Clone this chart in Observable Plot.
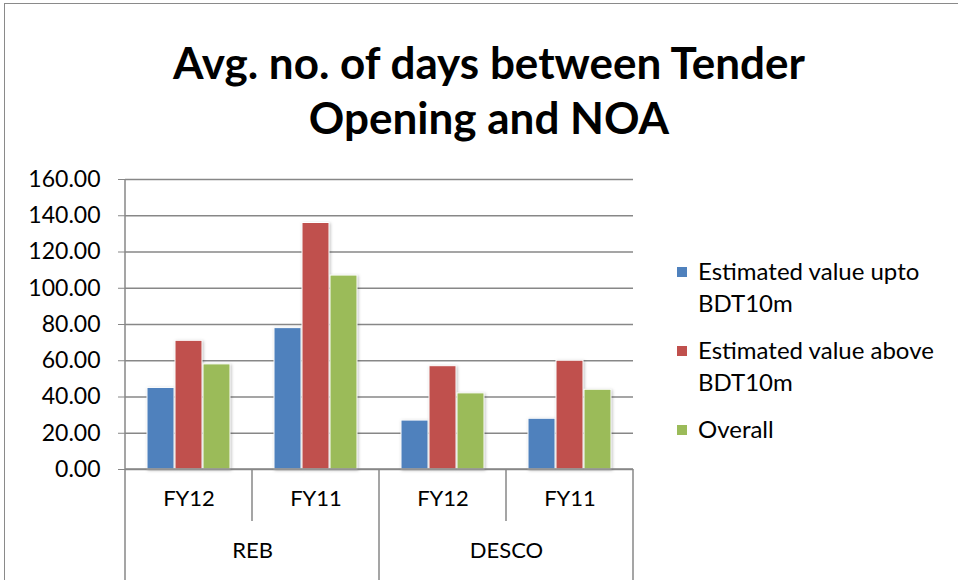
<!DOCTYPE html>
<html>
<head>
<meta charset="utf-8">
<script src="https://cdn.jsdelivr.net/npm/d3@7"></script>
<script src="https://cdn.jsdelivr.net/npm/@observablehq/plot@0.6"></script>
<style>
  html, body { margin: 0; padding: 0; background: #fff; }
  #wrap { position: relative; width: 958px; height: 580px; overflow: hidden; font-family: Lato, "Open Sans", sans-serif; }
  #border { position: absolute; left: 4px; top: 3px; width: 960px; height: 600px; border-left: 1px solid #8a8a8a; border-top: 1px solid #8a8a8a; }
  #title { position: absolute; left: 0; top: 35px; width: 978px; text-align: center; font-weight: bold; font-size: 44px; line-height: 55px; color: #000; }
  #chart { position: absolute; left: 0; top: 0; }
  #legend { position: absolute; left: 677px; top: 255px; font-size: 24px; color: #000; }
  .item { position: relative; padding-left: 21px; line-height: 32px; margin-bottom: 15px; }
  .sw { position: absolute; left: 0; top: 12px; width: 10px; height: 10px; }
</style>
</head>
<body>
<div id="wrap">
  <div id="border"></div>
  <div id="title">Avg. no. of days between Tender<br>Opening and NOA</div>
  <div id="chart"></div>
  <div id="legend"></div>
</div>
<script>
const groups = ["REB", "REB", "DESCO", "DESCO"];
const years = ["FY12", "FY11", "FY12", "FY11"];
const seriesNames = ["Estimated value upto BDT10m", "Estimated value above BDT10m", "Overall"];
const legendLines = [["Estimated value upto", "BDT10m"], ["Estimated value above", "BDT10m"], ["Overall"]];
const colors = ["#4F81BD", "#C0504D", "#9BBB59"];
const uptoValues = [45, 78, 27, 28];
const aboveValues = [71, 136, 57, 60];
const overallValues = [58, 107, 42, 44];
const yTicks = [0, 20, 40, 60, 80, 100, 120, 140, 160];

const seriesValues = [uptoValues, aboveValues, overallValues];
const cats = groups.map((g, i) => ({key: g + "|" + years[i] + "|" + i, group: g, year: years[i], first: i === 0 || groups[i - 1] !== g}));
const keys = cats.map(c => c.key);
const data = [];
cats.forEach((c, i) => seriesNames.forEach((s, j) => data.push({key: c.key, series: s, value: seriesValues[j][i]})));

const gridColor = "#878787";

const plot = Plot.plot({
  width: 660,
  height: 580,
  marginTop: 179,
  marginLeft: 125,
  marginRight: 27,
  marginBottom: 111,
  style: {fontFamily: "Lato, 'Open Sans', sans-serif", background: "transparent", overflow: "visible"},
  fx: {domain: keys, padding: 0, axis: null},
  x: {domain: seriesNames, paddingInner: 0.05, paddingOuter: 0.79, axis: null},
  y: {domain: [0, 160]},
  color: {domain: seriesNames, range: colors},
  marks: [
    Plot.gridY(yTicks, {stroke: gridColor, strokeOpacity: 1, strokeWidth: 1.5}),
    Plot.axisY(yTicks, {tickSize: 7, tickPadding: 18, tickFormat: d => d.toFixed(2), fontSize: 23, stroke: gridColor, fill: "black", label: null}),
    Plot.barY(data, {fx: "key", x: "series", y: "value", fill: "series", stroke: "white", strokeWidth: 1}),
    Plot.text(cats, {fx: "key", text: "year", frameAnchor: "bottom", dy: 36, fontSize: 22, fill: "black"}),
    Plot.text(cats.filter(c => c.first), {fx: "key", text: "group", frameAnchor: "bottom-right", dy: 88, fontSize: 22, fill: "black", textAnchor: "middle"})
  ]
});
document.getElementById("chart").appendChild(plot);

// axis line and category dividers using the plot's own scales
const fx = plot.scale("fx");
const y = plot.scale("y");
const svg = d3.select(plot);
svg.selectAll("rect").style("filter", "drop-shadow(1px 1px 1.5px rgba(0,0,0,0.25))");
const y0 = y.apply(0), y1 = y.apply(160);
const left = fx.apply(keys[0]);
const bw = fx.bandwidth;
const g = svg.append("g").attr("stroke", gridColor).attr("stroke-width", 1.5);
g.append("line").attr("x1", left).attr("x2", left).attr("y1", y1).attr("y2", y0);
g.append("line").attr("x1", left).attr("x2", fx.apply(keys[keys.length - 1]) + bw).attr("y1", y0).attr("y2", y0);
cats.forEach((c, i) => {
  const x = fx.apply(c.key);
  g.append("line").attr("x1", x).attr("x2", x).attr("y1", y0).attr("y2", c.first ? 580 : y0 + 52);
});
const xr = fx.apply(keys[keys.length - 1]) + bw;
g.append("line").attr("x1", xr).attr("x2", xr).attr("y1", y0).attr("y2", 580);

// legend
const legend = d3.select("#legend");
seriesNames.forEach((s, i) => {
  const it = legend.append("div").attr("class", "item");
  it.append("div").attr("class", "sw").style("background", colors[i]);
  it.append("div").html(legendLines[i].join("<br>"));
});
</script>
</body>
</html>
